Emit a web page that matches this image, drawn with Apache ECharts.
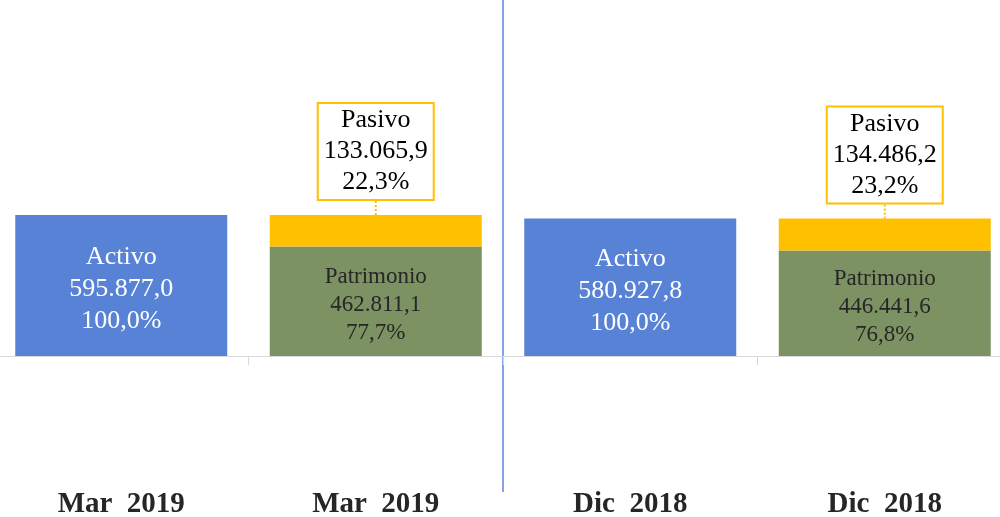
<!DOCTYPE html>
<html>
<head>
<meta charset="utf-8">
<script src="https://cdn.jsdelivr.net/npm/echarts@6/dist/echarts.min.js"></script>
<style>
  html, body { margin: 0; padding: 0; background: #fff; }
  #main { width: 1000px; height: 517px; }
</style>
</head>
<body>
<div id="main"></div>
<script>
const categories = ['Mar  2019', 'Mar  2019', 'Dic  2018', 'Dic  2018']
const activo = [595877.0, null, 580927.8, null]
const patrimonio = [null, 462811.1, null, 446441.6]
const pasivo = [null, 133065.9, null, 134486.2]
const activoPct = [100.0, null, 100.0, null]
const patrimonioPct = [null, 77.7, null, 76.8]
const pasivoPct = [null, 22.3, null, 23.2]

// 595.877,0 style
function fmt (v, d) {
  const parts = v.toFixed(d).split('.')
  parts[0] = parts[0].replace(/\B(?=(\d{3})+(?!\d))/g, '.')
  return parts.join(',')
}

function labelText (name, pct) {
  return p => name + '\n' + fmt(p.value, 1) + '\n' + fmt(pct[p.dataIndex], 1) + '%'
}

const serif = 'Liberation Serif, Times New Roman, serif'

const option = {
  animation: false,
  grid: { left: -6, right: -12, top: 0, bottom: 25, outerBoundsMode: 'none', containLabel: false },
  xAxis: [
    {
      type: 'category',
      data: categories,
      position: 'bottom',
      axisLine: { onZero: true, lineStyle: { color: '#d9d9d9', width: 1 } },
      axisTick: { show: true, interval: 0, length: 9, lineStyle: { color: '#d9d9d9' } },
      axisLabel: { show: false },
      splitLine: { show: false }
    },
    {
      type: 'category',
      data: categories,
      position: 'bottom',
      axisLine: { show: false, onZero: false },
      axisTick: { show: false },
      axisLabel: {
        interval: 0,
        margin: -2,
        fontFamily: serif,
        fontWeight: 'bold',
        fontSize: 29,
        lineHeight: 29,
        color: '#262626'
      },
      splitLine: { show: false }
    },
    {
      // only used for the blue divider between the two periods
      type: 'value',
      min: 0,
      max: 2,
      interval: 1,
      position: 'top',
      axisLine: { show: false, onZero: false },
      axisTick: { show: false },
      axisLabel: { show: false },
      splitLine: { show: true, lineStyle: { color: '#5b86d6', width: 1.5 } }
    }
  ],
  yAxis: {
    type: 'value',
    min: -575000,
    max: 1505000,
    show: false
  },
  series: [
    {
      name: 'Activo',
      type: 'bar',
      stack: 'total',
      barWidth: 212,
      data: activo,
      itemStyle: { color: '#5882d6' },
      label: {
        show: true,
        position: 'inside',
        offset: [0, 4],
        formatter: labelText('Activo', activoPct),
        fontFamily: serif,
        fontSize: 26,
        lineHeight: 32,
        color: '#fff'
      }
    },
    {
      name: 'Patrimonio',
      type: 'bar',
      stack: 'total',
      barWidth: 212,
      data: patrimonio,
      itemStyle: { color: '#7d9263' },
      label: {
        show: true,
        position: 'inside',
        offset: [0, 4],
        formatter: labelText('Patrimonio', patrimonioPct),
        fontFamily: serif,
        fontSize: 23,
        lineHeight: 28,
        color: '#262626'
      }
    },
    {
      name: 'Pasivo',
      type: 'bar',
      stack: 'total',
      barWidth: 212,
      data: pasivo,
      itemStyle: { color: '#ffc000' },
      label: {
        show: true,
        position: 'top',
        distance: 0,
        formatter: labelText('Pasivo', pasivoPct),
        fontFamily: serif,
        fontSize: 26,
        lineHeight: 31,
        color: '#000',
        backgroundColor: '#fff',
        borderColor: '#ffc000',
        borderWidth: 2,
        padding: [1, 5, 1, 5]
      },
      labelLayout: { dy: -16 },
      labelLine: {
        show: true,
        lineStyle: { color: '#ffc000', type: 'dotted', width: 2 }
      }
    }
  ]
}

const chart = echarts.init(document.getElementById('main'))
chart.setOption(option)
</script>
</body>
</html>
